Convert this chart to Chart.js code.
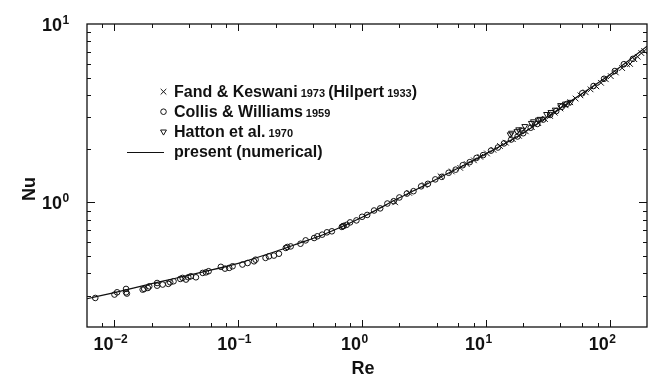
<!DOCTYPE html>
<html>
<head>
<meta charset="utf-8">
<script src="https://cdn.jsdelivr.net/npm/chart.js@4/dist/chart.umd.min.js"></script>
<style>
  body { margin: 0; background: #fff; }
  #wrap { width: 653px; height: 377px; }
</style>
</head>
<body>
<div id="wrap"><canvas id="myChart" width="653" height="377"></canvas></div>
<script>
// Fand & Keswani 1973 (Hilpert 1933)  -> crosses
var fandRe = [1.85, 2.4, 3.2, 4.3, 5.3, 6.2, 7.0, 8.0, 9.0, 10.2, 11.5, 13, 14.5, 16.5, 18.5, 21, 23.5, 26.5, 30, 33, 36, 40, 44, 48, 53, 58, 64, 70, 78, 85, 93, 102, 112, 126, 138, 146, 158, 168, 180, 190];
var fandNu = [1.00, 1.13, 1.25, 1.40, 1.49, 1.56, 1.64, 1.72, 1.80, 1.88, 1.97, 2.07, 2.16, 2.26, 2.36, 2.50, 2.64, 2.78, 2.93, 3.05, 3.18, 3.36, 3.50, 3.64, 3.82, 3.98, 4.14, 4.30, 4.47, 4.68, 4.90, 5.10, 5.35, 5.66, 5.95, 5.97, 6.35, 6.55, 6.87, 7.05];

// Collis & Williams 1959 -> circles
var collisRe = [0.0070, 0.0100, 0.0105, 0.0124, 0.0124, 0.0126, 0.0169, 0.0174, 0.0186, 0.0191, 0.0221, 0.0221, 0.0245, 0.0272, 0.0282, 0.0300, 0.0340, 0.0355, 0.0378, 0.0395, 0.0414, 0.0455, 0.0516, 0.0548, 0.0576,
  0.0723, 0.0781, 0.0845, 0.0899, 0.108, 0.119, 0.134, 0.138, 0.166, 0.177, 0.194, 0.213, 0.242, 0.249, 0.265, 0.318, 0.35, 0.41, 0.435, 0.476, 0.52, 0.57, 0.686, 0.70, 0.71,
  0.75, 0.8, 0.9, 1.0, 1.1, 1.25, 1.4, 1.6, 1.8, 2.0, 2.3, 2.6, 3.0, 3.4, 3.9, 4.4, 5.0, 5.7, 6.5, 7.4, 8.4, 9.5, 11, 12.5, 14, 16, 18, 20, 23, 26, 29, 33, 37, 41, 45,
  60, 74, 90, 110, 130, 154];
var collisNu = [0.291, 0.304, 0.313, 0.327, 0.313, 0.308, 0.324, 0.327, 0.331, 0.338, 0.353, 0.341, 0.346, 0.349, 0.356, 0.361, 0.372, 0.377, 0.369, 0.380, 0.385, 0.380, 0.402, 0.405, 0.411,
  0.435, 0.425, 0.429, 0.438, 0.448, 0.457, 0.467, 0.477, 0.488, 0.498, 0.503, 0.515, 0.555, 0.562, 0.566, 0.586, 0.612, 0.631, 0.645, 0.659, 0.679, 0.688, 0.728, 0.734, 0.738,
  0.748, 0.772, 0.792, 0.830, 0.850, 0.900, 0.925, 0.985, 1.015, 1.065, 1.120, 1.155, 1.230, 1.270, 1.345, 1.390, 1.465, 1.525, 1.615, 1.680, 1.775, 1.840, 1.950, 2.030, 2.140, 2.250, 2.340, 2.440, 2.620, 2.750, 2.910, 3.090, 3.250, 3.430, 3.560,
  4.09, 4.49, 4.93, 5.45, 5.95, 6.38];

// Hatton et al. 1970 -> down triangles
var hattonRe = [15.7, 16.1, 17.8, 18.4, 19.5, 20.6, 23.3, 24.2, 26.5, 27.3, 30.9, 33.5, 36.3, 40.1, 43.9, 48.3];
var hattonNu = [2.40, 2.45, 2.50, 2.56, 2.55, 2.67, 2.78, 2.84, 2.90, 2.93, 3.12, 3.20, 3.30, 3.50, 3.57, 3.65];

// present (numerical) -> solid line
var numRe = [0.006, 0.01, 0.02, 0.03, 0.05, 0.1, 0.2, 0.3, 0.5, 1, 2, 3, 5, 10, 20, 30, 50, 100, 150, 200];
var numNu = [0.288, 0.312, 0.350, 0.373, 0.405, 0.455, 0.530, 0.585, 0.665, 0.825, 1.06, 1.22, 1.46, 1.87, 2.45, 2.95, 3.75, 5.20, 6.42, 7.50];

// axis ranges and decade tick labels (exponents)
var reRange = [0.006, 200];
var nuRange = [0.2, 10];
var xDecades = [-2, -1, 0, 1, 2];
var yDecades = [0, 1];
var xMinorMult = [2, 4, 6, 8];
var yMinorMult = [2, 3, 4, 5, 6, 7, 8, 9];

var ink = "#111";
var face = '"Liberation Sans", Arial, Helvetica, sans-serif';

function pairs(xs, ys) {
  return xs.map(function (v, i) { return { x: v, y: ys[i] }; });
}
function supText(e) {
  return e < 0 ? "\u2212" + (-e) : String(e);
}

// frame with inward ticks on all four sides, plus the 10^n labels
var framePlugin = {
  id: "frame",
  afterDraw: function (chart) {
    var ctx = chart.ctx, a = chart.chartArea, xs = chart.scales.x, ys = chart.scales.y;
    ctx.save();
    ctx.strokeStyle = ink;
    ctx.lineWidth = 1.3;
    ctx.strokeRect(a.left, a.top, a.right - a.left, a.bottom - a.top);

    ctx.lineWidth = 1;
    ctx.beginPath();
    for (var e = -3; e <= 2; e++) {
      [1].concat(xMinorMult).forEach(function (m) {
        var v = m * Math.pow(10, e);
        if (v <= xs.min || v >= xs.max) return;
        var px = Math.round(xs.getPixelForValue(v)) + 0.5;
        var len = m === 1 ? 7 : 4;
        ctx.moveTo(px, a.bottom); ctx.lineTo(px, a.bottom - len);
        ctx.moveTo(px, a.top); ctx.lineTo(px, a.top + len);
      });
    }
    for (var k = -1; k <= 1; k++) {
      [1].concat(yMinorMult).forEach(function (m) {
        var v = m * Math.pow(10, k);
        if (v <= ys.min || v >= ys.max) return;
        var py = Math.round(ys.getPixelForValue(v)) + 0.5;
        var len = m === 1 ? 8 : 4;
        ctx.moveTo(a.left, py); ctx.lineTo(a.left + len, py);
        ctx.moveTo(a.right, py); ctx.lineTo(a.right - len, py);
      });
    }
    ctx.stroke();

    // tick labels: "10" with a raised exponent
    ctx.fillStyle = ink;
    ctx.textBaseline = "alphabetic";
    xDecades.forEach(function (e) {
      var px = xs.getPixelForValue(Math.pow(10, e));
      ctx.font = "bold 18px " + face;
      ctx.textAlign = "right";
      ctx.fillText("10", px - 1, 350);
      ctx.font = "bold 12px " + face;
      ctx.textAlign = "left";
      ctx.fillText(supText(e), px - 0.5, 343);
    });
    yDecades.forEach(function (e) {
      var py = ys.getPixelForValue(Math.pow(10, e));
      ctx.font = "bold 18px " + face;
      ctx.textAlign = "right";
      ctx.fillText("10", 62, py + 6.5);
      ctx.font = "bold 12px " + face;
      ctx.textAlign = "left";
      ctx.fillText(supText(e), 62.5, py);
    });

    // axis titles
    ctx.font = "bold 18px " + face;
    ctx.textAlign = "center";
    ctx.fillText("Re", 363, 374);
    ctx.save();
    ctx.translate(35, 189);
    ctx.rotate(-Math.PI / 2);
    ctx.fillText("Nu", 0, 0);
    ctx.restore();

    ctx.restore();
  }
};

// legend with mixed font sizes (years are set smaller)
var legendRows = [
  { ds: 0, parts: [["Fand & Keswani", 16], [" 1973 ", 11], ["(Hilpert", 16], [" 1933", 11], [")", 16]] },
  { ds: 1, parts: [["Collis & Williams", 16], [" 1959", 11]] },
  { ds: 2, parts: [["Hatton et al.", 16], [" 1970", 11]] },
  { ds: 3, parts: [["present (numerical)", 16]] }
];

var legendPlugin = {
  id: "paperLegend",
  afterDraw: function (chart) {
    var ctx = chart.ctx;
    ctx.save();
    legendRows.forEach(function (row, i) {
      var cy = 91.7 + i * 20;
      var ds = chart.data.datasets[row.ds];
      ctx.strokeStyle = ink;
      ctx.fillStyle = "rgba(0,0,0,0)";
      if (ds.showLine) {
        ctx.lineWidth = 1.1;
        ctx.beginPath();
        ctx.moveTo(127, Math.round(cy) + 0.5);
        ctx.lineTo(164, Math.round(cy) + 0.5);
        ctx.stroke();
      } else {
        ctx.lineWidth = ds.borderWidth;
        Chart.helpers.drawPoint(ctx, {
          pointStyle: ds.pointStyle,
          rotation: ds.pointRotation || 0,
          radius: ds.pointRadius,
          borderWidth: ds.borderWidth
        }, 163.5, cy);
      }
      var tx = 174;
      ctx.fillStyle = ink;
      ctx.textAlign = "left";
      ctx.textBaseline = "alphabetic";
      row.parts.forEach(function (p) {
        ctx.font = "bold " + p[1] + "px " + face;
        ctx.fillText(p[0], tx, cy + 5);
        tx += ctx.measureText(p[0]).width;
      });
    });
    ctx.restore();
  }
};

var ctx = document.getElementById("myChart");

var myChart = new Chart(ctx, {
  type: "scatter",
  data: {
    datasets: [
      {
        label: "Fand & Keswani 1973 (Hilpert 1933)",
        data: pairs(fandRe, fandNu),
        pointStyle: "crossRot",
        pointRadius: 4,
        borderWidth: 1,
        borderColor: ink,
        backgroundColor: "rgba(0,0,0,0)"
      },
      {
        label: "Collis & Williams 1959",
        data: pairs(collisRe, collisNu),
        pointStyle: "circle",
        pointRadius: 2.8,
        borderWidth: 1,
        borderColor: ink,
        backgroundColor: "rgba(0,0,0,0)"
      },
      {
        label: "Hatton et al. 1970",
        data: pairs(hattonRe, hattonNu),
        pointStyle: "triangle",
        pointRotation: 180,
        pointRadius: 3.4,
        borderWidth: 1,
        borderColor: ink,
        backgroundColor: "rgba(0,0,0,0)"
      },
      {
        label: "present (numerical)",
        data: pairs(numRe, numNu),
        showLine: true,
        cubicInterpolationMode: "monotone",
        pointRadius: 0,
        borderWidth: 1.2,
        borderColor: ink,
        backgroundColor: ink
      }
    ]
  },
  options: {
    responsive: false,
    animation: false,
    layout: { padding: { left: 87, top: 24, right: 6, bottom: 50 } },
    plugins: {
      legend: { display: false },
      tooltip: { enabled: false }
    },
    scales: {
      x: { type: "logarithmic", min: reRange[0], max: reRange[1], display: false },
      y: { type: "logarithmic", min: nuRange[0], max: nuRange[1], display: false }
    }
  },
  plugins: [framePlugin, legendPlugin]
});
</script>
</body>
</html>
